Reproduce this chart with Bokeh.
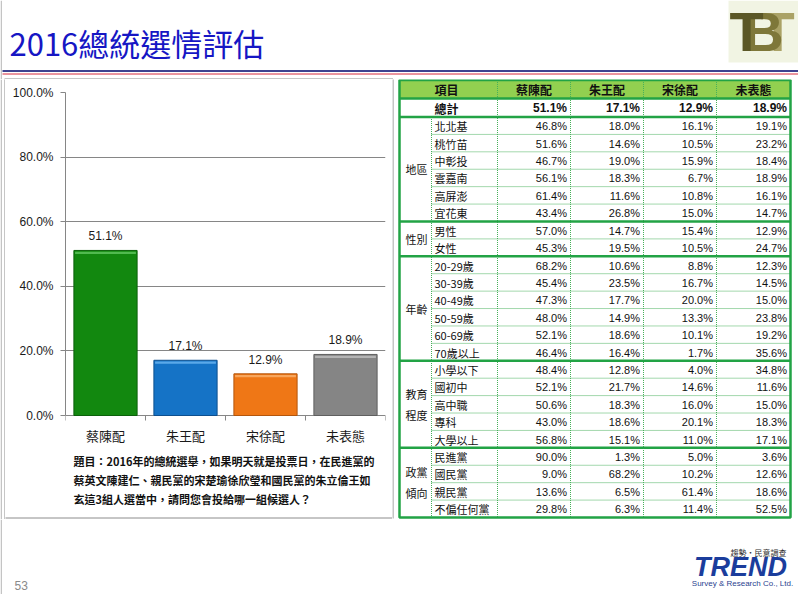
import numpy as np
from bokeh.plotting import figure
from bokeh.layouts import column, row
from bokeh.models import Range1d, FixedTicker, NumeralTickFormatter
from bokeh.core.properties import value
from bokeh.embed import file_html
from bokeh.resources import INLINE

# ---------------- data ----------------
page_title = "2016總統選情評估"
candidates = ["蔡陳配", "朱王配", "宋徐配", "未表態"]
support = [0.511, 0.171, 0.129, 0.189]
y_ticks = [0.0, 0.2, 0.4, 0.6, 0.8, 1.0]
question_lines = [
    "題目：2016年的總統選舉，如果明天就是投票日，在民進黨的",
    "蔡英文陳建仁、親民黨的宋楚瑜徐欣瑩和國民黨的朱立倫王如",
    "玄這3組人選當中，請問您會投給哪一組候選人？",
]
table_head = "項目"
total_label = "總計"
groups = ["地區", "性別", "年齡", "教育\n程度", "政黨\n傾向"]
group_sizes = [6, 2, 6, 5, 4]
items = ["北北基", "桃竹苗", "中彰投", "雲嘉南", "高屏澎", "宜花東",
         "男性", "女性",
         "20-29歲", "30-39歲", "40-49歲", "50-59歲", "60-69歲", "70歲以上",
         "小學以下", "國初中", "高中職", "專科", "大學以上",
         "民進黨", "國民黨", "親民黨", "不偏任何黨"]
tsai_chen = [46.8, 51.6, 46.7, 56.1, 61.4, 43.4, 57.0, 45.3, 68.2, 45.4, 47.3, 48.0,
             52.1, 46.4, 48.4, 52.1, 50.6, 43.0, 56.8, 90.0, 9.0, 13.6, 29.8]
chu_wang = [18.0, 14.6, 19.0, 18.3, 11.6, 26.8, 14.7, 19.5, 10.6, 23.5, 17.7, 14.9,
            18.6, 16.4, 12.8, 21.7, 18.3, 18.6, 15.1, 1.3, 68.2, 6.5, 6.3]
soong_hsu = [16.1, 10.5, 15.9, 6.7, 10.8, 15.0, 15.4, 10.5, 8.8, 16.7, 20.0, 13.3,
             10.1, 1.7, 4.0, 14.6, 16.0, 20.1, 11.0, 5.0, 10.2, 61.4, 11.4]
undecided = [19.1, 23.2, 18.4, 18.9, 16.1, 14.7, 12.9, 24.7, 12.3, 14.5, 15.0, 23.8,
             19.2, 35.6, 34.8, 11.6, 15.0, 18.3, 17.1, 3.6, 12.6, 18.6, 52.5]
page_number = "53"

# ---------------- styles ----------------
CJK = "Noto Sans CJK TC"
LAT = "Liberation Sans"
bar_fill = ["#12880f", "#1573c6", "#ef7716", "#858585"]
bar_edge = ["#0b600a", "#0d4f8e", "#b4560c", "#5f5f5f"]
bar_light = ["#5cc35a", "#66b2ee", "#f9ae68", "#bcbcbc"]
GRID = "#868686"
PANEL = "#8c8c8c"
SLIDE = "#c4c4c4"
GREEN = "#22a345"
DOT = "#46b05a"
W = 798


def canvas(w, h, x0, x1, y0, y1):
    f = figure(width=w, height=h, x_range=Range1d(x0, x1), y_range=Range1d(y1, y0),
               output_backend="svg", toolbar_location=None, min_border=0,
               x_axis_location=None, y_axis_location=None)
    f.grid.visible = False
    f.outline_line_color = None
    f.background_fill_color = "white"
    f.border_fill_color = "white"
    f.frame_align = False
    return f


# ---------------- top band (page y 0..79) ----------------
top = canvas(W, 79, 0, W, 0, 79)
top.segment(x0=[0.75], x1=[0.75], y0=[0], y1=[79], line_color=SLIDE, line_width=1.5)
top.quad(left=[728], right=[W], top=[0], bottom=[62], fill_color="#eef1dc", line_color=None, fill_alpha=0.8)
for lx, lc in zip([777, 763, 746], ["#aaa266", "#7e7739", "#5b5726"]):
    top.text(x=[lx], y=[31], text=["B" if lx == 763 else "T"], text_font=value(LAT), text_font_style="bold",
             text_font_size="56px", text_color=lc, text_align="center", text_baseline="middle")
top.text(x=[9], y=[41.5], text=[page_title], text_font=value(CJK), text_font_size="31px",
         text_color="#1616c4", text_baseline="middle")
top.segment(x0=[2], x1=[W], y0=[70.5], y1=[70.5], line_color="#3d4290", line_width=2)
top.segment(x0=[2], x1=[W], y0=[73.5], y1=[73.5], line_color="#d62b3c", line_width=1)
top.segment(x0=[4], x1=[392.5], y0=[78.5], y1=[78.5], line_color=PANEL, line_width=1)

# ---------------- left strip (page x 0..5) ----------------
strip = canvas(5, 440, 0, 5, 79, 519)
strip.segment(x0=[0.75], x1=[0.75], y0=[79], y1=[519], line_color=SLIDE, line_width=1.5)
strip.segment(x0=[4.5], x1=[4.5], y0=[78.5], y1=[518.5], line_color=PANEL, line_width=1)

# ---------------- bar chart (page x 5..392, y 79..454) ----------------
PX = 323.0
xc = [i + 0.5 for i in range(len(candidates))]
cp = figure(width=387, height=375, x_range=Range1d(0, len(candidates)), y_range=Range1d(-6 / PX, 1.0),
            output_backend="svg", toolbar_location=None,
            min_border_left=60, min_border_right=7, min_border_top=13, min_border_bottom=33)
cp.frame_align = False
cp.outline_line_color = None
cp.background_fill_color = "white"
cp.border_fill_color = "white"
cp.xgrid.visible = False
cp.yaxis.ticker = FixedTicker(ticks=y_ticks)
cp.yaxis.formatter = NumeralTickFormatter(format="0.0%")
cp.yaxis.bounds = (0, 1)
cp.yaxis.axis_line_color = GRID
cp.yaxis.major_tick_line_color = GRID
cp.yaxis.major_tick_out = 5
cp.yaxis.major_tick_in = 0
cp.yaxis.minor_tick_line_color = None
cp.yaxis.major_label_standoff = 7
cp.yaxis.major_label_text_font = LAT
cp.yaxis.major_label_text_font_size = "12px"
cp.yaxis.major_label_text_color = "#1a1a1a"
cp.ygrid.grid_line_color = GRID
cp.xaxis.ticker = FixedTicker(ticks=xc)
cp.xaxis.major_label_overrides = {x: c for x, c in zip(xc, candidates)}
cp.xaxis.axis_line_color = None
cp.xaxis.major_tick_line_color = None
cp.xaxis.minor_tick_line_color = None
cp.xaxis.major_tick_out = 0
cp.xaxis.major_tick_in = 0
cp.xaxis.major_label_standoff = 4
cp.xaxis.major_label_text_font = CJK
cp.xaxis.major_label_text_font_size = "13px"
cp.xaxis.major_label_text_color = "#1a1a1a"

bnd = list(range(len(candidates) + 1))
cp.segment(x0=bnd, x1=bnd, y0=[0] * len(bnd), y1=[-5 / PX] * len(bnd), line_color=GRID)
cp.vbar(x=xc, top=support, bottom=0, width=0.79, fill_color=bar_fill, line_color=bar_edge, line_width=1)
cp.vbar(x=xc, top=[v - 1.2 / PX for v in support], bottom=[v - 3.5 / PX for v in support], width=0.76,
        fill_color=bar_light, line_color=None, fill_alpha=0.85)
cp.text(x=xc, y=support, text=[f"{v:.1%}" for v in support], text_align="center", text_baseline="bottom",
        y_offset=-7, text_font=value(LAT), text_font_size="12px", text_color="#1a1a1a")

# ---------------- question text (page x 5..392, y 454..519) ----------------
qf = canvas(387, 65, 5, 392, 454, 519)
qf.text(x=[73] * len(question_lines), y=[460, 479.2, 498.4], text=question_lines, text_baseline="middle",
        text_font=value(CJK), text_font_style="bold", text_font_size="11px", text_color="#111111")
qf.segment(x0=[4], x1=[392.5], y0=[517.5], y1=[517.5], line_color=PANEL, line_width=1)

# ---------------- table (page x 392..798, y 79..519) ----------------
tp = canvas(W - 392, 440, 392, W, 79, 519)
tp.segment(x0=[392.5], x1=[392.5], y0=[78.5], y1=[518], line_color=PANEL)
tx0, tx1 = 399, 790
col_edges = [431, 497, 570, 643, 716, 790]
y_top, y_head, y_total, y_bot = 79.5, 98.0, 116.5, 517.0
n = len(items)
rh = (y_bot - y_total) / n
rb = [y_total + rh * k for k in range(n + 1)]
gcum = list(np.cumsum([0] + group_sizes))
tp.quad(left=[tx0], right=[tx1], top=[y_top], bottom=[y_head], fill_color="#92d050", line_color=None)
inner = [k for k in range(1, n) if k not in gcum]
tp.segment(x0=[col_edges[0]] * len(inner), x1=[tx1] * len(inner), y0=[rb[k] for k in inner],
           y1=[rb[k] for k in inner], line_color=DOT, line_dash="1 1", line_width=1)
tp.segment(x0=col_edges[1:5], x1=col_edges[1:5], y0=[y_top] * 4, y1=[y_bot] * 4,
           line_color=DOT, line_dash="1 1", line_width=1)
tp.segment(x0=[col_edges[0]], x1=[col_edges[0]], y0=[y_total], y1=[y_bot],
           line_color=DOT, line_dash="1 1", line_width=1)
thick = [y_head, y_total] + [rb[k] for k in gcum[1:-1]]
tp.segment(x0=[tx0] * len(thick), x1=[tx1] * len(thick), y0=thick, y1=thick, line_color=GREEN, line_width=2.5)
tp.quad(left=[tx0], right=[tx1], top=[y_top], bottom=[y_bot], fill_color=None, line_color=GREEN, line_width=2.5)

col_mid = [(col_edges[i] + col_edges[i + 1]) / 2 for i in range(1, 5)]
col_right = [col_edges[i + 1] - 3.5 for i in range(1, 5)]
hy = (y_top + y_head) / 2 + 0.5
tp.text(x=[(tx0 + col_edges[1]) / 2 - 2] + col_mid, y=[hy] * 5, text=[table_head] + candidates,
        text_align="center", text_baseline="middle", text_font=value(CJK), text_font_style="bold",
        text_font_size="12px", text_color="#111111")
ty = (y_head + y_total) / 2 + 0.5
tp.text(x=[434], y=[ty], text=[total_label], text_baseline="middle", text_font=value(CJK),
        text_font_style="bold", text_font_size="12px", text_color="#111111")
tp.text(x=col_right, y=[ty] * 4, text=[f"{v * 100:.1f}%" for v in support], text_align="right",
        text_baseline="middle", text_font=value(LAT), text_font_style="bold", text_font_size="12px",
        text_color="#111111")
ry = [(rb[k] + rb[k + 1]) / 2 + 0.5 for k in range(n)]
tp.text(x=[434] * n, y=ry, text=items, text_baseline="middle", text_font=value(CJK),
        text_font_size="11px", text_color="#111111")
for series, xr in zip([tsai_chen, chu_wang, soong_hsu, undecided], col_right):
    tp.text(x=[xr] * n, y=ry, text=[f"{v:.1f}%" for v in series], text_align="right",
            text_baseline="middle", text_font=value(LAT), text_font_size="11px", text_color="#111111")
gy = [(rb[gcum[i]] + rb[gcum[i + 1]]) / 2 for i in range(len(groups))]
tp.text(x=[(tx0 + col_edges[0]) / 2 + 1] * len(groups), y=gy, text=groups, text_align="center",
        text_baseline="middle", text_font=value(CJK), text_font_size="11px", text_color="#111111",
        text_line_height=1.35)

# ---------------- bottom band (page y 519..594) ----------------
bot = canvas(W, 75, 0, W, 519, 594)
bot.segment(x0=[0.75], x1=[0.75], y0=[519], y1=[594], line_color=SLIDE, line_width=1.5)
bot.text(x=[14], y=[585], text=[page_number], text_baseline="middle", text_font=value(LAT),
         text_font_size="12px", text_color="#8a8a8a")
bot.text(x=[786], y=[552], text=["趨勢・民意調查"], text_align="right", text_baseline="middle",
         text_font=value(CJK), text_font_size="8px", text_color="#333333")
bot.text(x=[740], y=[566], text=["TREND"], text_align="center", text_baseline="middle",
         text_font=value(LAT), text_font_style="bold italic", text_font_size="27px", text_color="#1b3d9c")
bot.text(x=[742], y=[583], text=["Survey & Research Co., Ltd."], text_align="center", text_baseline="middle",
         text_font=value(LAT), text_font_size="8px", text_color="#2a3f8f")

layout = column(top, row(strip, column(cp, qf), tp), bot)
open("out.html", "w").write(file_html(layout, INLINE))
